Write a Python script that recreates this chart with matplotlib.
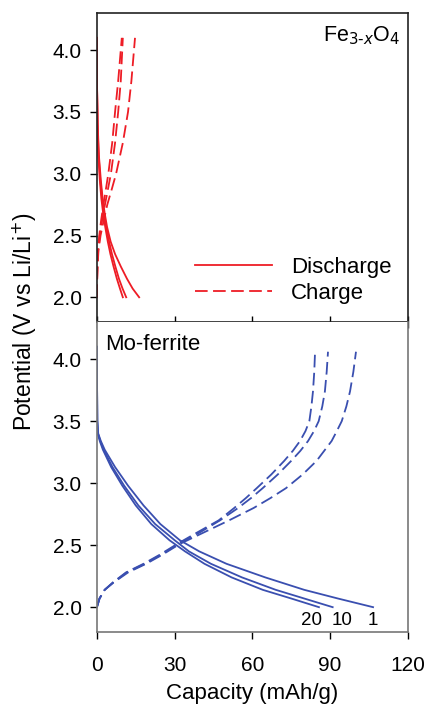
import matplotlib
matplotlib.use("Agg")
import matplotlib.pyplot as plt

plt.rcParams['font.family'] = ['Liberation Sans', 'DejaVu Sans']

RED = "#ee1c25"
BLUE = "#3a4fb0"

# Fe3-xO4 (top panel): three discharge / charge curves
fe_dis_v = [4.10, 3.70, 3.40, 3.15, 2.95, 2.80, 2.68, 2.57, 2.45, 2.35, 2.25, 2.15, 2.07, 2.00]
fe_dis_cap = [
    [0, 0.05, 0.20, 0.55, 1.1, 1.7, 2.4, 3.2, 4.2, 5.2, 6.4, 7.7, 8.9, 10.0],
    [0, 0.05, 0.25, 0.65, 1.3, 2.0, 2.75, 3.6, 4.7, 5.8, 7.1, 8.5, 9.9, 11.3],
    [0, 0.05, 0.30, 0.75, 1.5, 2.2, 3.0, 3.9, 5.3, 7.0, 9.2, 11.6, 13.8, 16.3],
]
fe_chg_v = [2.00, 2.12, 2.25, 2.38, 2.50, 2.62, 2.75, 2.88, 3.00, 3.25, 3.50, 3.75, 4.10]
fe_chg_cap = [
    [0, 0.05, 0.15, 0.4, 0.9, 1.6, 2.5, 3.5, 4.4, 5.9, 7.0, 8.2, 9.6],
    [0, 0.05, 0.20, 0.5, 1.1, 2.0, 3.1, 4.3, 5.4, 7.0, 8.2, 9.2, 10.0],
    [0, 0.05, 0.25, 0.6, 1.4, 2.6, 4.0, 5.8, 7.4, 10.0, 12.0, 13.3, 14.7],
]

# Mo-ferrite (bottom panel): cycles 1, 10, 20
cycle_labels = ["1", "10", "20"]
mo_dis_v = [4.10, 3.80, 3.50, 3.40, 3.34, 3.27, 3.13, 2.98, 2.82, 2.67,
            2.54, 2.45, 2.35, 2.24, 2.14, 2.07, 2.00]
mo_dis_cap = [
    [0, 0.05, 0.15, 0.5, 1.5, 3.0, 7.0, 12.0, 18.0, 24.5, 32.0, 39.5, 50.0, 65.0, 80.0, 93.0, 106.6],
    [0, 0.05, 0.15, 0.4, 1.3, 2.6, 6.0, 10.5, 16.0, 22.5, 30.0, 35.5, 44.0, 56.0, 69.0, 80.0, 91.0],
    [0, 0.05, 0.12, 0.3, 1.1, 2.3, 5.5, 9.8, 15.0, 21.0, 28.0, 34.0, 41.5, 52.0, 64.0, 75.0, 85.7],
]
mo_chg_v = [2.00, 2.07, 2.14, 2.20, 2.28, 2.35, 2.42, 2.51, 2.60, 2.70, 2.80, 2.88,
            2.96, 3.07, 3.18, 3.26, 3.34, 3.42, 3.50, 3.62, 3.74, 3.90, 4.06]
mo_chg_cap = [
    [0, 1, 3, 6.5, 12.0, 19.0, 25.0, 32.0, 41.0, 51.0, 60.5, 67.0,
     73.0, 79.4, 84.8, 87.7, 90.6, 92.6, 94.5, 96.3, 97.7, 99.0, 100.0],
    [0, 1, 3, 6.3, 11.5, 18.5, 24.5, 31.5, 39.5, 47.5, 54.5, 59.5,
     64.0, 69.8, 75.0, 78.5, 81.5, 83.8, 85.6, 87.0, 88.0, 88.7, 89.2],
    [0, 1, 3, 6.2, 11.2, 18.0, 24.0, 31.0, 38.5, 47.0, 53.0, 57.5,
     61.7, 67.3, 72.3, 75.6, 78.4, 80.5, 82.0, 82.8, 83.4, 83.9, 84.2],
]

fig = plt.figure(figsize=(4.27, 7.10), dpi=100)
ax1 = fig.add_axes([0.227, 0.5465, 0.728, 0.435])
ax2 = fig.add_axes([0.227, 0.1099, 0.728, 0.4366])

lw = 1.3
dash = (7, 3)

for i in range(3):
    ax1.plot(fe_dis_cap[i], fe_dis_v, color=RED, lw=lw,
             label="Discharge" if i == 0 else None)
    ax1.plot(fe_chg_cap[i], fe_chg_v, color=RED, lw=lw, dashes=dash,
             label="Charge" if i == 0 else None)
    ax2.plot(mo_dis_cap[i], mo_dis_v, color=BLUE, lw=lw)
    ax2.plot(mo_chg_cap[i], mo_chg_v, color=BLUE, lw=lw, dashes=dash)

# cycle numbers under the discharge end points
label_shift = [0.0, 3.6, -2.7]
for i, lab in enumerate(cycle_labels):
    ax2.text(mo_dis_cap[i][-1] + label_shift[i], 1.96, lab,
             ha="center", va="top", fontsize=13.5)

for ax in (ax1, ax2):
    ax.set_xlim(0, 120)
    ax.set_ylim(1.8, 4.3)
    ax.set_xticks([0, 30, 60, 90, 120])
    ax.set_yticks([2.0, 2.5, 3.0, 3.5, 4.0])
    ax.set_yticklabels(["2.0", "2.5", "3.0", "3.5", "4.0"])
    ax.tick_params(labelsize=15, length=5, width=1, pad=6)

ax2.tick_params(axis="x", pad=12)
ax1.tick_params(axis="x", direction="inout", labelbottom=False, length=9)
for s in ax1.spines.values():
    s.set_color("#222222")
    s.set_linewidth(1.2)
for s in ax2.spines.values():
    s.set_color("#777777")
    s.set_linewidth(1.2)
ax2.spines["top"].set_visible(False)

ax1.text(0.975, 0.965, "Fe$_{3\\text{-}x}$O$_4$", transform=ax1.transAxes,
         ha="right", va="top", fontsize=15.5)
ax2.text(0.025, 0.96, "Mo-ferrite", transform=ax2.transAxes,
         ha="left", va="top", fontsize=16)

ax1.legend(loc="lower right", bbox_to_anchor=(1.013, -0.005), frameon=False,
           fontsize=16, handlelength=3.5, handletextpad=0.85,
           labelspacing=0.22)

ax2.set_xlabel("Capacity (mAh/g)", fontsize=16, labelpad=6)
fig.text(0.058, 0.547, "Potential (V vs Li/Li$^{+}$)", rotation=90,
         ha="center", va="center", fontsize=16.5)

fig.savefig("out.png", dpi=100)
